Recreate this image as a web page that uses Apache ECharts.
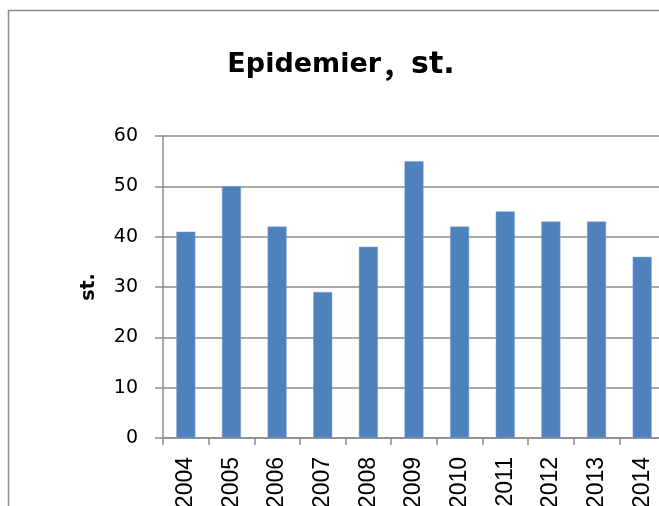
<!DOCTYPE html>
<html lang="en">
<head>
    <meta charset="UTF-8">
    <title>Epidemier</title>
    <script src="https://cdn.jsdelivr.net/npm/echarts@6/dist/echarts.min.js"></script>
    <style>
        html, body { margin: 0; padding: 0; background: #fff; overflow: hidden; }
        #chart { width: 659px; height: 506px; }
    </style>
</head>
<body>
    <div id="chart"></div>
    <script>
        // data
        const years = ['2004', '2005', '2006', '2007', '2008', '2009', '2010', '2011', '2012', '2013', '2014'];
        const cases = [41, 50, 42, 29, 38, 55, 42, 45, 43, 43, 36];
        const yTicks = { min: 0, max: 60, interval: 10 };

        const chart = echarts.init(document.getElementById('chart'));
        const font = 'Liberation Sans, Arial, sans-serif';
        const wide = 'DejaVu Sans, sans-serif';

        chart.setOption({
            animation: false,
            graphic: [{
                type: 'rect',
                shape: { x: 8.5, y: 10.5, width: 700, height: 600 },
                style: { fill: 'none', stroke: '#8c8c8c', lineWidth: 1.5 }
            }],
            title: {
                text: '{a|Epidemier}{b|，}{c|st.}',
                left: 336,
                textAlign: 'center',
                top: 45,
                textStyle: {
                    rich: {
                        a: { fontFamily: wide, fontWeight: 'bold', fontSize: 27, color: '#000' },
                        b: { fontFamily: 'Noto Sans CJK SC', fontWeight: 'bold', fontSize: 30, color: '#000' },
                        c: { fontFamily: wide, fontWeight: 'bold', fontSize: 30, color: '#000' }
                    }
                }
            },
            grid: { left: 163, top: 136, right: -6, bottom: 68, containLabel: false, outerBoundsMode: 'none' },
            xAxis: {
                type: 'category',
                data: years,
                axisLine: { lineStyle: { color: '#8c8c8c', width: 1.5 } },
                axisTick: { show: true, length: 7, alignWithLabel: false, lineStyle: { color: '#8c8c8c', width: 1.5 } },
                axisLabel: {
                    rotate: 90,
                    margin: 19,
                    color: '#000',
                    fontFamily: font,
                    fontSize: 23
                }
            },
            yAxis: {
                type: 'value',
                min: yTicks.min,
                max: yTicks.max,
                interval: yTicks.interval,
                name: 'st.',
                nameLocation: 'middle',
                nameGap: 64,
                nameRotate: 90,
                nameTextStyle: { fontFamily: wide, fontWeight: 'bold', fontSize: 19, color: '#000' },
                axisLine: { show: true, lineStyle: { color: '#8c8c8c', width: 1.5 } },
                axisTick: { show: true, length: 8, lineStyle: { color: '#8c8c8c', width: 1.5 } },
                splitLine: { lineStyle: { color: '#8c8c8c', width: 1.5 } },
                axisLabel: { margin: 25, color: '#000', fontFamily: wide, fontSize: 19 }
            },
            series: [{
                type: 'bar',
                data: cases,
                barWidth: 19,
                itemStyle: { color: '#4f81bd', borderColor: '#7aa0d0', borderWidth: 0.5 }
            }]
        });
    </script>
</body>
</html>
